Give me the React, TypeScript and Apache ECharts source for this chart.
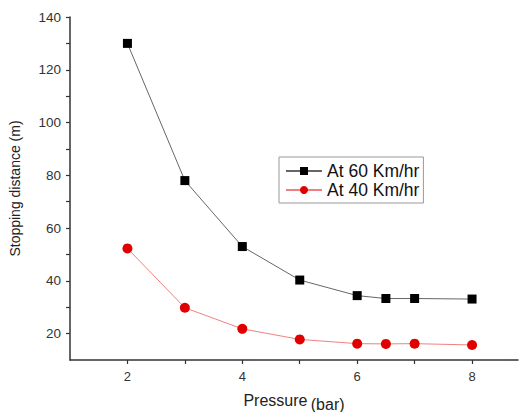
import React, { useEffect, useRef } from "react";
import * as echarts from "echarts";

const pressure = [2, 3, 4, 5, 6, 6.5, 7, 8];
const at60 = [130, 78, 53, 40.3, 34.4, 33.3, 33.3, 33.1];
const at40 = [52.3, 29.8, 21.8, 17.8, 16.2, 16.1, 16.2, 15.7];
const xLabels = [2, 4, 6, 8];
const xTicks = [2, 3, 4, 5, 6, 7, 8];
const yLabels = [20, 40, 60, 80, 100, 120, 140];
const yTicks = [20, 30, 40, 50, 60, 70, 80, 90, 100, 110, 120, 130, 140];

const FONT = "'Liberation Sans', Arial, sans-serif";

export default function App() {
  const ref = useRef<HTMLDivElement>(null);
  useEffect(() => {
    document.body.style.margin = "0";
    if (!ref.current) return;
    const chart = echarts.init(ref.current, undefined, { renderer: "svg" });
    const axisLine = { show: true, lineStyle: { color: "#333", width: 1.5 } };
    chart.setOption({
      animation: false,
      backgroundColor: "#fff",
      textStyle: { fontFamily: FONT },
      grid: { left: 70, top: 17, right: 4, bottom: 52, containLabel: false, outerBoundsMode: "none" },
      legend: {
        left: 279,
        top: 157,
        orient: "vertical",
        borderColor: "#999",
        borderWidth: 1,
        padding: [5, 4, 4, 6],
        itemGap: 1,
        itemWidth: 36,
        itemHeight: 10,
        textStyle: { fontSize: 17.5, color: "#111", fontFamily: FONT },
        data: ["At 60 Km/hr", "At 40 Km/hr"],
      },
      xAxis: {
        type: "value",
        min: 1,
        max: 8.8,
        splitLine: { show: false },
        axisLine,
        axisTick: { show: true, length: 4, customValues: xTicks, lineStyle: { color: "#333", width: 1.2 } },
        axisLabel: { customValues: xLabels, fontSize: 13, color: "#333", margin: 10, fontFamily: FONT },
        name: "{a|Pressure} {b|(bar)}",
        nameLocation: "middle",
        nameGap: 28,
        nameTextStyle: {
          rich: {
            a: { fontSize: 16, color: "#222", fontFamily: FONT },
            b: { fontSize: 16, color: "#222", fontFamily: FONT, padding: [8, 0, 0, 0] },
          },
        },
      },
      yAxis: {
        type: "value",
        min: 10,
        max: 140,
        splitLine: { show: false },
        axisLine,
        axisTick: { show: true, length: 4, customValues: yTicks, lineStyle: { color: "#333", width: 1.2 } },
        axisLabel: { customValues: yLabels, fontSize: 13.5, color: "#333", margin: 9, fontFamily: FONT },
        name: "Stopping distance (m)",
        nameLocation: "middle",
        nameGap: 48,
        nameTextStyle: { fontSize: 14, color: "#222", fontFamily: FONT },
      },
      series: [
        {
          name: "At 60 Km/hr",
          type: "line",
          data: pressure.map((p, i) => [p, at60[i]]),
          symbol: "rect",
          symbolSize: 9,
          itemStyle: { color: "#000" },
          lineStyle: { color: "#666", width: 1 },
        },
        {
          name: "At 40 Km/hr",
          type: "line",
          data: pressure.map((p, i) => [p, at40[i]]),
          symbol: "circle",
          symbolSize: 10,
          itemStyle: { color: "#e00000" },
          lineStyle: { color: "#f08080", width: 1 },
        },
      ],
    });
    return () => chart.dispose();
  }, []);
  return <div ref={ref} style={{ width: 522, height: 412 }} />;
}
